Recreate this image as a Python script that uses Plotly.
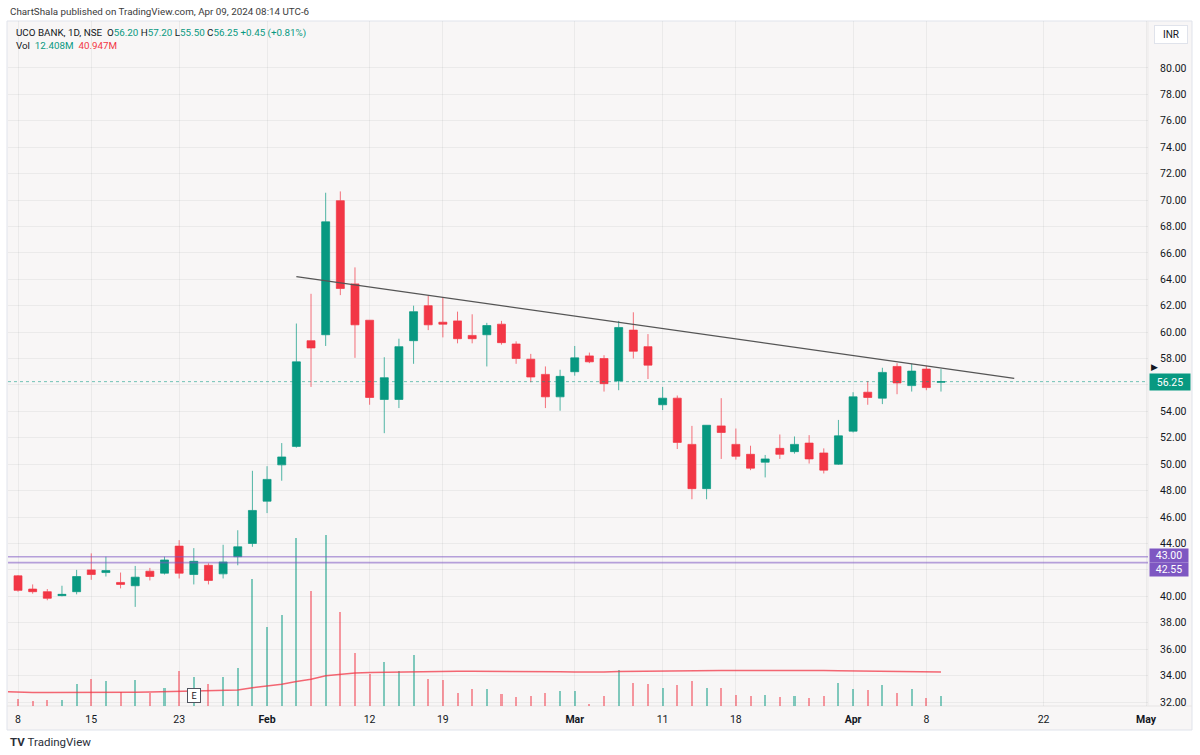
import plotly.graph_objects as go

# ---------------- data ----------------
dates = ["2024-01-08","2024-01-09","2024-01-10","2024-01-11","2024-01-12",
         "2024-01-15","2024-01-16","2024-01-17","2024-01-18","2024-01-19","2024-01-20",
         "2024-01-23","2024-01-24","2024-01-25","2024-01-29","2024-01-30","2024-01-31",
         "2024-02-01","2024-02-02","2024-02-05","2024-02-06","2024-02-07","2024-02-08","2024-02-09",
         "2024-02-12","2024-02-13","2024-02-14","2024-02-15","2024-02-16",
         "2024-02-19","2024-02-20","2024-02-21","2024-02-22","2024-02-23",
         "2024-02-26","2024-02-27","2024-02-28","2024-02-29","2024-03-01","2024-03-02",
         "2024-03-04","2024-03-05","2024-03-06","2024-03-07",
         "2024-03-11","2024-03-12","2024-03-13","2024-03-14","2024-03-15",
         "2024-03-18","2024-03-19","2024-03-20","2024-03-21","2024-03-22",
         "2024-03-26","2024-03-27","2024-03-28",
         "2024-04-01","2024-04-02","2024-04-03","2024-04-04","2024-04-05",
         "2024-04-08","2024-04-09"]

opens = [41.55,40.55,40.35,40.05,40.35,42.00,41.80,41.05,40.80,41.90,41.75,43.80,41.65,42.35,
         41.70,43.00,44.00,47.20,49.95,51.35,59.35,59.80,69.95,63.65,60.90,54.90,54.90,59.35,
         62.00,60.75,60.85,59.75,59.80,60.60,59.10,57.95,56.80,55.10,57.00,58.20,58.00,56.30,
         60.15,58.90,54.50,55.00,51.50,48.15,52.90,51.50,50.75,50.15,51.20,50.95,51.60,50.85,
         50.00,52.50,55.45,55.00,57.40,55.95,57.20,56.20]
highs = [41.60,40.90,40.55,40.80,42.00,43.25,43.00,41.80,42.30,42.15,43.00,44.25,43.65,42.50,
         43.90,45.00,49.50,49.85,51.60,60.65,62.90,70.55,70.65,64.90,60.90,58.10,59.50,62.00,
         62.75,62.65,61.55,61.35,60.70,60.85,59.30,58.35,57.40,57.15,58.95,58.45,58.25,60.85,
         61.50,59.85,55.85,55.20,52.90,52.95,55.00,52.70,51.40,50.70,52.25,52.10,52.20,51.20,
         53.35,55.45,56.30,57.30,57.65,57.60,57.45,57.20]
lows = [40.35,40.20,39.70,40.00,40.15,41.25,41.50,40.60,39.20,41.20,41.65,41.35,40.90,40.90,
        41.35,42.35,43.75,46.30,48.75,51.25,55.85,58.95,62.80,58.05,54.50,52.35,54.25,57.60,
        60.15,59.60,59.15,59.15,57.40,59.05,57.60,56.20,54.25,54.05,56.70,57.65,55.50,55.60,
        58.00,56.45,54.10,51.15,47.35,47.35,50.40,50.35,49.55,49.00,50.40,50.80,50.05,49.30,
        49.95,52.40,54.50,54.55,55.30,55.50,55.60,55.50]
closes = [40.45,40.35,39.85,40.15,41.50,41.65,41.95,40.90,41.45,41.50,42.75,41.75,42.65,41.20,
          42.60,43.75,46.50,48.85,50.55,57.75,58.80,68.35,63.30,60.55,55.05,56.55,58.90,61.55,
          60.55,60.60,59.50,59.50,60.50,59.20,58.00,56.60,55.10,56.65,58.05,57.75,56.10,60.35,
          58.55,57.50,55.00,51.65,48.15,52.95,52.40,50.60,49.70,50.40,50.75,51.50,50.40,49.55,
          52.15,55.10,55.05,56.95,56.15,57.05,55.80,56.25]

# volume in millions
volumes = [8.4,6.0,7.2,7.2,26.5,32.5,30.1,16.9,31.3,15.7,22.0,42.2,35.3,26.5,35.3,45.8,153.4,
           95.2,109.6,201.8,138.6,206.4,113.6,63.9,38.6,53.0,42.2,61.4,32.5,31.3,16.0,20.5,20.5,
           14.5,10.8,12.4,15.7,18.1,18.1,2.4,12.4,43.4,28.1,26.5,22.0,25.7,30.5,21.7,21.7,13.3,
           12.0,13.3,10.8,12.0,10.0,11.7,28.1,20.5,19.3,25.3,16.0,20.1,9.3,12.408]

# volume moving average (first value is the session before Jan 8)
vol_ma = [17.2,16.5,16.4,16.4,16.3,16.3,16.4,16.4,16.5,16.6,16.8,17.3,17.9,18.3,18.5,18.8,19.3,
          22.0,24.0,26.3,29.5,32.2,36.5,38.6,39.8,40.4,40.8,41.1,41.5,41.7,41.9,42.0,42.0,42.0,
          42.0,41.9,41.8,41.6,41.2,40.9,40.6,40.8,41.6,41.9,42.0,42.2,42.4,42.6,42.7,42.8,42.9,
          43.0,43.1,43.2,43.2,43.0,42.8,42.6,42.3,42.0,41.7,41.5,41.3,41.1,40.947]

tick_pos = [0, 5, 11, 17, 24, 29, 38, 44, 49, 57, 62, 70, 77]
tick_text = ["8", "15", "23", "<b>Feb</b>", "12", "19", "<b>Mar</b>", "11", "18",
             "<b>Apr</b>", "8", "22", "<b>May</b>"]

price_ticks = [32, 34, 36, 38, 40, 42, 44, 46, 48, 50, 52, 54, 56, 58, 60, 62, 64, 66, 68,
               70, 72, 74, 76, 78, 80]
hidden_price_ticks = [42, 56]

trend_pos = [19, 68]
trend_price = [64.2, 56.5]
levels = [43.00, 42.55]
last_price = 56.25

# ---------------- styling ----------------
UP = "#089981"
DOWN = "#f23645"
FONT = "Roboto"
TXT = "#131722"

W, H = 1200, 755
PL, PR, PT, PB = 8, 1148, 21, 706


def px_x(px):
    return (px - PL) / (PR - PL)


def px_y(py):
    return (PB - py) / (PB - PT)


pos = list(range(len(dates)))
ma_pos = [-1] + pos

vol_colors = ["rgba(8,153,129,0.5)" if c >= o else "rgba(242,54,69,0.5)"
              for o, c in zip(opens, closes)]

fig = go.Figure()

fig.add_trace(go.Bar(x=pos, y=volumes, width=0.14, marker=dict(color=vol_colors, line=dict(width=0)),
                     yaxis="y2", hoverinfo="skip", showlegend=False))
fig.add_trace(go.Scatter(x=ma_pos, y=vol_ma, mode="lines", yaxis="y2",
                         line=dict(color="rgba(242,54,69,0.75)", width=1.5),
                         hoverinfo="skip", showlegend=False))

fig.add_trace(go.Candlestick(
    x=pos, open=opens, high=highs, low=lows, close=closes,
    increasing=dict(line=dict(color="rgba(8,153,129,0.7)", width=1), fillcolor=UP),
    decreasing=dict(line=dict(color="rgba(242,54,69,0.7)", width=1), fillcolor=DOWN),
    hovertext=dates, showlegend=False))

fig.add_trace(go.Scatter(x=trend_pos, y=trend_price, mode="lines",
                         line=dict(color="#555555", width=1.2),
                         hoverinfo="skip", showlegend=False))

shapes = [
    # chart frame
    dict(type="rect", xref="paper", yref="paper", x0=px_x(7), x1=px_x(1192),
         y0=px_y(730), y1=px_y(21), fillcolor="#f8f6f6",
         line=dict(color="#e0e3eb", width=1), layer="below"),
    dict(type="line", xref="paper", yref="paper", x0=px_x(7), x1=px_x(1192),
         y0=0, y1=0, line=dict(color="#e6e4e4", width=1), layer="below"),
    dict(type="line", xref="paper", yref="paper", x0=1, x1=1,
         y0=0, y1=1, line=dict(color="#ebe9e9", width=1), layer="below"),
    # last price dotted line
    dict(type="line", xref="paper", yref="y", x0=0, x1=1, y0=last_price, y1=last_price,
         line=dict(color="rgba(8,153,129,0.55)", width=1, dash="dot"), layer="above"),
]
for lv in levels:
    shapes.append(dict(type="line", xref="paper", yref="y", x0=0, x1=1, y0=lv, y1=lv,
                       line=dict(color="rgba(126,87,194,0.55)", width=1.6), layer="above"))

annotations = [
    dict(xref="paper", yref="paper", x=0, y=px_y(12), xanchor="left", yanchor="middle",
         text="ChartShala published on TradingView.com, Apr 09, 2024 08:14 UTC-6",
         showarrow=False, font=dict(family=FONT, size=9.8, color="#3b3b3b")),
    dict(xref="paper", yref="paper", x=px_x(14), y=px_y(33), xanchor="left", yanchor="middle",
         text=("UCO BANK, 1D, NSE&nbsp;&nbsp;O<span style='color:#089981'>56.20</span>&nbsp;"
               "H<span style='color:#089981'>57.20</span>&nbsp;"
               "L<span style='color:#089981'>55.50</span>&nbsp;"
               "C<span style='color:#089981'>56.25</span>&nbsp;"
               "<span style='color:#089981'>+0.45 (+0.81%)</span>"),
         showarrow=False, font=dict(family=FONT, size=9.8, color=TXT)),
    dict(xref="paper", yref="paper", x=px_x(14), y=px_y(46), xanchor="left", yanchor="middle",
         text=("Vol&nbsp;&nbsp;<span style='color:#089981'>12.408M</span>&nbsp;&nbsp;"
               "<span style='color:#f23645'>40.947M</span>"),
         showarrow=False, font=dict(family=FONT, size=9.8, color=TXT)),
    dict(xref="paper", yref="paper", x=px_x(1171), y=px_y(34), xanchor="center", yanchor="middle",
         text="INR", showarrow=False, bgcolor="#ffffff", bordercolor="#e0e3eb", borderwidth=1,
         borderpad=3, width=26, font=dict(family=FONT, size=10, color=TXT)),
    dict(xref="paper", yref="y", x=1, y=last_price, xanchor="left", yanchor="middle",
         xshift=1, text="56.25", showarrow=False, bgcolor=UP, width=38, height=14,
         borderpad=1, font=dict(family=FONT, size=10.5, color="#ffffff")),
    dict(xref="paper", yref="y", x=1, y=levels[0], xanchor="left", yanchor="middle",
         xshift=1, yshift=1, text="43.00", showarrow=False, bgcolor="#7e57c2", width=38, height=13,
         borderpad=0, font=dict(family=FONT, size=10.5, color="#ffffff")),
    dict(xref="paper", yref="y", x=1, y=levels[1], xanchor="left", yanchor="middle",
         xshift=1, yshift=-7, text="42.55", showarrow=False, bgcolor="#7e57c2", width=38, height=13,
         borderpad=0, font=dict(family=FONT, size=10.5, color="#ffffff")),
    dict(xref="paper", yref="y", x=1, y=57.35, xanchor="left", yanchor="middle",
         xshift=1, text="▶", showarrow=False, font=dict(family="DejaVu Sans", size=9, color="#131722")),
    dict(xref="x", yref="paper", x=12, y=px_y(695), xanchor="center", yanchor="middle",
         text="E", showarrow=False, bgcolor="#ffffff", bordercolor="#50535e", borderwidth=1,
         borderpad=1, width=10, height=11, font=dict(family=FONT, size=9, color=TXT)),
    dict(xref="paper", yref="paper", x=0, y=px_y(742), xanchor="left", yanchor="middle",
         text="<b>TV</b>&nbsp;TradingView", showarrow=False,
         font=dict(family=FONT, size=11.5, color="#2a2e39")),
]

fig.update_layout(
    width=W, height=H,
    margin=dict(l=PL, r=W - PR, t=PT, b=H - PB),
    paper_bgcolor="#ffffff", plot_bgcolor="rgba(0,0,0,0)",
    boxgap=0.22,
    xaxis=dict(range=[-0.683, 77.13], tickmode="array", tickvals=tick_pos, ticktext=tick_text,
               showgrid=True, gridcolor="rgba(42,46,57,0.06)", gridwidth=1,
               zeroline=False, showline=False, ticks="outside", ticklen=3,
               tickcolor="rgba(0,0,0,0)", tickfont=dict(family=FONT, size=10.5, color=TXT),
               rangeslider=dict(visible=False), fixedrange=True),
    yaxis=dict(range=[31.697, 83.55], side="right", tickmode="array", tickvals=price_ticks,
               ticktext=["" if v in hidden_price_ticks else f"{v:.2f}" for v in price_ticks],
               showgrid=True, gridcolor="rgba(42,46,57,0.06)", gridwidth=1,
               zeroline=False, showline=False, ticks="outside", ticklen=9,
               tickcolor="rgba(0,0,0,0)", tickfont=dict(family=FONT, size=10.5, color=TXT)),
    yaxis2=dict(range=[0, 825], overlaying="y", visible=False, fixedrange=True),
    shapes=shapes, annotations=annotations,
    showlegend=False, bargap=0,
)

fig.write_html("out.html", config={"displayModeBar": False},
               post_script="document.body.style.margin='0';")
